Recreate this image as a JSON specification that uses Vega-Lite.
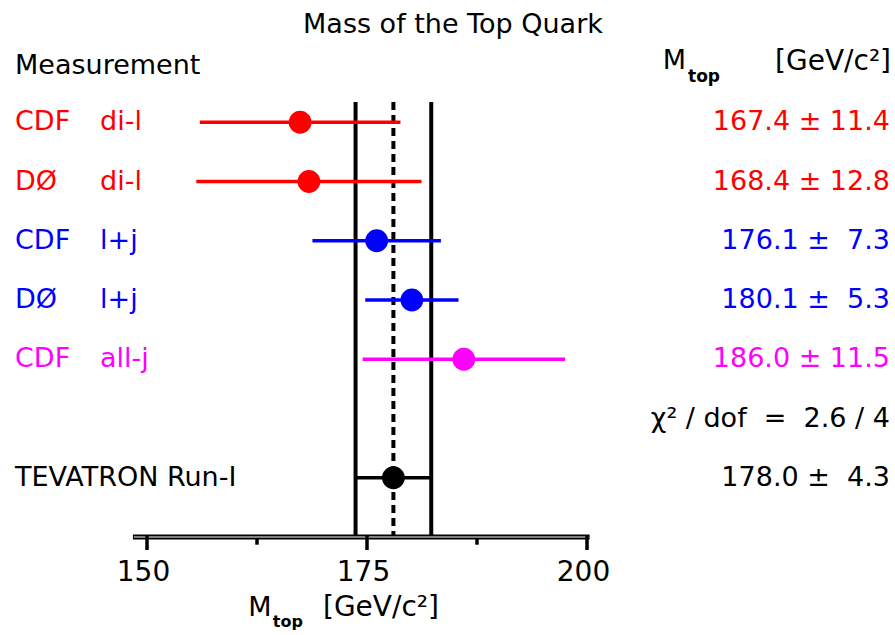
{
  "$schema": "https://vega.github.io/schema/vega-lite/v6.json",
  "width": 440,
  "height": 474,
  "autosize": {"type": "none"},
  "padding": {"left": 147, "top": 63, "right": 308, "bottom": 98},
  "background": "white",
  "config": {"view": {"stroke": null}, "font": "DejaVu Sans"},
  "datasets": {
    "meas": [
      {"row": 1, "detector": "CDF", "channel": "di-l", "mass": 167.4, "err": 11.4, "lo": 156.0, "hi": 178.8, "result": "167.4 ± 11.4", "group": "dilepton"},
      {"row": 2, "detector": "DØ", "channel": "di-l", "mass": 168.4, "err": 12.8, "lo": 155.6, "hi": 181.2, "result": "168.4 ± 12.8", "group": "dilepton"},
      {"row": 3, "detector": "CDF", "channel": "l+j", "mass": 176.1, "err": 7.3, "lo": 168.8, "hi": 183.4, "result": "176.1 ±\u00a0\u00a07.3", "group": "lepton+jets"},
      {"row": 4, "detector": "DØ", "channel": "l+j", "mass": 180.1, "err": 5.3, "lo": 174.8, "hi": 185.4, "result": "180.1 ±\u00a0\u00a05.3", "group": "lepton+jets"},
      {"row": 5, "detector": "CDF", "channel": "all-j", "mass": 186.0, "err": 11.5, "lo": 174.5, "hi": 197.5, "result": "186.0 ± 11.5", "group": "all-jets"},
      {"row": 7, "detector": "TEVATRON Run-I", "channel": "", "mass": 178.0, "err": 4.3, "lo": 173.7, "hi": 182.3, "result": "178.0 ±\u00a0\u00a04.3", "group": "combined"}
    ],
    "band": [{"edge": 173.7, "kind": "lower"}, {"edge": 182.3, "kind": "upper"}],
    "centre": [{"edge": 178.0}],
    "ticks": [
      {"tick": 150, "kind": "major"},
      {"tick": 162.5, "kind": "minor"},
      {"tick": 175, "kind": "major"},
      {"tick": 187.5, "kind": "minor"},
      {"tick": 200, "kind": "major"}
    ],
    "summary": [{"row": 6, "text": "χ² / dof \u00a0=\u00a0 2.6 / 4"}]
  },
  "layer": [
    {
      "data": {"name": "band"},
      "mark": {"type": "rule", "strokeWidth": 4, "color": "black"},
      "encoding": {
        "x": {"field": "edge", "type": "quantitative", "scale": {"domain": [150, 200], "nice": false, "zero": false},
              "axis": {"values": [150, 175, 200], "domain": false, "ticks": false, "grid": false, "labelPadding": 21, "labelOffset": -4, "labelFontSize": 28, "labelColor": "black", "labelFont": "DejaVu Sans", "title": null, "labelFlush": false}},
        "y": {"datum": 0.66, "type": "quantitative", "scale": {"domain": [0, 8], "reverse": true, "nice": false, "zero": false}, "axis": null},
        "y2": {"datum": 8}
      }
    },
    {
      "data": {"name": "centre"},
      "mark": {"type": "rule", "strokeWidth": 4, "color": "black", "strokeDash": [8, 5]},
      "encoding": {
        "x": {"field": "edge", "type": "quantitative"},
        "y": {"datum": 0.66, "type": "quantitative"},
        "y2": {"datum": 8}
      }
    },
    {
      "data": {"name": "meas"},
      "mark": {"type": "rule", "strokeWidth": 3.5},
      "encoding": {
        "x": {"field": "lo", "type": "quantitative"},
        "x2": {"field": "hi"},
        "y": {"field": "row", "type": "quantitative"},
        "color": {"field": "group", "type": "nominal", "legend": null,
                  "scale": {"domain": ["dilepton", "lepton+jets", "all-jets", "combined"], "range": ["#ff0000", "#0000ff", "#ff00ff", "#000000"]}}
      }
    },
    {
      "data": {"name": "meas"},
      "mark": {"type": "circle", "size": 520, "opacity": 1},
      "encoding": {
        "x": {"field": "mass", "type": "quantitative"},
        "y": {"field": "row", "type": "quantitative"},
        "color": {"field": "group", "type": "nominal", "legend": null}
      }
    },
    {
      "data": {"name": "meas"},
      "mark": {"type": "text", "align": "left", "baseline": "middle", "fontSize": 27, "font": "DejaVu Sans"},
      "encoding": {
        "x": {"datum": 135.0, "type": "quantitative"},
        "y": {"field": "row", "type": "quantitative"},
        "text": {"field": "detector"},
        "color": {"field": "group", "type": "nominal", "legend": null}
      }
    },
    {
      "data": {"name": "meas"},
      "mark": {"type": "text", "align": "left", "baseline": "middle", "fontSize": 27, "font": "DejaVu Sans"},
      "encoding": {
        "x": {"datum": 144.66, "type": "quantitative"},
        "y": {"field": "row", "type": "quantitative"},
        "text": {"field": "channel"},
        "color": {"field": "group", "type": "nominal", "legend": null}
      }
    },
    {
      "data": {"name": "meas"},
      "mark": {"type": "text", "align": "right", "baseline": "middle", "fontSize": 27, "font": "DejaVu Sans"},
      "encoding": {
        "x": {"datum": 234.43, "type": "quantitative"},
        "y": {"field": "row", "type": "quantitative"},
        "text": {"field": "result"},
        "color": {"field": "group", "type": "nominal", "legend": null}
      }
    },
    {
      "data": {"name": "summary"},
      "mark": {"type": "text", "align": "right", "baseline": "middle", "fontSize": 27, "font": "DejaVu Sans", "color": "black"},
      "encoding": {
        "x": {"datum": 234.43, "type": "quantitative"},
        "y": {"field": "row", "type": "quantitative"},
        "text": {"field": "text"}
      }
    },
    {
      "data": {"values": [{"x0": 148.4, "x1": 200.3}]},
      "mark": {"type": "rule", "strokeWidth": 5, "color": "black"},
      "encoding": {
        "x": {"field": "x0", "type": "quantitative"},
        "x2": {"field": "x1"},
        "y": {"datum": 8, "type": "quantitative"}
      }
    },
    {
      "data": {"values": [{"x0": 148.5, "x1": 200.2}]},
      "mark": {"type": "rule", "strokeWidth": 1.2, "color": "white"},
      "encoding": {
        "x": {"field": "x0", "type": "quantitative"},
        "x2": {"field": "x1"},
        "y": {"datum": 8, "type": "quantitative"}
      }
    },
    {
      "data": {"name": "ticks"},
      "transform": [{"filter": {"field": "kind", "equal": "major"}}],
      "mark": {"type": "rule", "strokeWidth": 3.5, "color": "black"},
      "encoding": {
        "x": {"field": "tick", "type": "quantitative"},
        "y": {"datum": 7.97, "type": "quantitative"},
        "y2": {"datum": 8.22}
      }
    },
    {
      "data": {"name": "ticks"},
      "transform": [{"filter": {"field": "kind", "equal": "minor"}}],
      "mark": {"type": "rule", "strokeWidth": 3.5, "color": "black"},
      "encoding": {
        "x": {"field": "tick", "type": "quantitative"},
        "y": {"datum": 8.02, "type": "quantitative"},
        "y2": {"datum": 8.13}
      }
    },
    {
      "data": {"values": [{"label": "Mass of the Top Quark"}]},
      "mark": {"type": "text", "align": "center", "baseline": "middle", "fontSize": 27, "font": "DejaVu Sans", "color": "black"},
      "encoding": {
        "x": {"datum": 184.77, "type": "quantitative"},
        "y": {"datum": -0.64, "type": "quantitative"},
        "text": {"field": "label"}
      }
    },
    {
      "data": {"values": [{"label": "Measurement"}]},
      "mark": {"type": "text", "align": "left", "baseline": "middle", "fontSize": 27, "font": "DejaVu Sans", "color": "black"},
      "encoding": {
        "x": {"datum": 135.0, "type": "quantitative"},
        "y": {"datum": 0.05, "type": "quantitative"},
        "text": {"field": "label"}
      }
    },
    {
      "data": {"values": [{"label": "M"}]},
      "mark": {"type": "text", "align": "left", "baseline": "middle", "fontSize": 27, "font": "DejaVu Sans", "color": "black"},
      "encoding": {
        "x": {"datum": 208.6, "type": "quantitative"},
        "y": {"datum": -0.03, "type": "quantitative"},
        "text": {"field": "label"}
      }
    },
    {
      "data": {"values": [{"label": "top"}]},
      "mark": {"type": "text", "align": "left", "baseline": "middle", "fontSize": 17, "fontWeight": "bold", "font": "DejaVu Sans", "color": "black"},
      "encoding": {
        "x": {"datum": 211.48, "type": "quantitative"},
        "y": {"datum": 0.24, "type": "quantitative"},
        "text": {"field": "label"}
      }
    },
    {
      "data": {"values": [{"label": "[GeV/c²]"}]},
      "mark": {"type": "text", "align": "right", "baseline": "middle", "fontSize": 28, "font": "DejaVu Sans", "color": "black"},
      "encoding": {
        "x": {"datum": 234.55, "type": "quantitative"},
        "y": {"datum": -0.02, "type": "quantitative"},
        "text": {"field": "label"}
      }
    },
    {
      "data": {"values": [{"label": "M"}]},
      "mark": {"type": "text", "align": "left", "baseline": "middle", "fontSize": 27, "font": "DejaVu Sans", "color": "black"},
      "encoding": {
        "x": {"datum": 161.5, "type": "quantitative"},
        "y": {"datum": 9.2, "type": "quantitative"},
        "text": {"field": "label"}
      }
    },
    {
      "data": {"values": [{"label": "top"}]},
      "mark": {"type": "text", "align": "left", "baseline": "middle", "fontSize": 16, "fontWeight": "bold", "font": "DejaVu Sans", "color": "black"},
      "encoding": {
        "x": {"datum": 164.3, "type": "quantitative"},
        "y": {"datum": 9.44, "type": "quantitative"},
        "text": {"field": "label"}
      }
    },
    {
      "data": {"values": [{"label": "[GeV/c²]"}]},
      "mark": {"type": "text", "align": "left", "baseline": "middle", "fontSize": 28, "font": "DejaVu Sans", "color": "black"},
      "encoding": {
        "x": {"datum": 170.0, "type": "quantitative"},
        "y": {"datum": 9.2, "type": "quantitative"},
        "text": {"field": "label"}
      }
    }
  ]
}
